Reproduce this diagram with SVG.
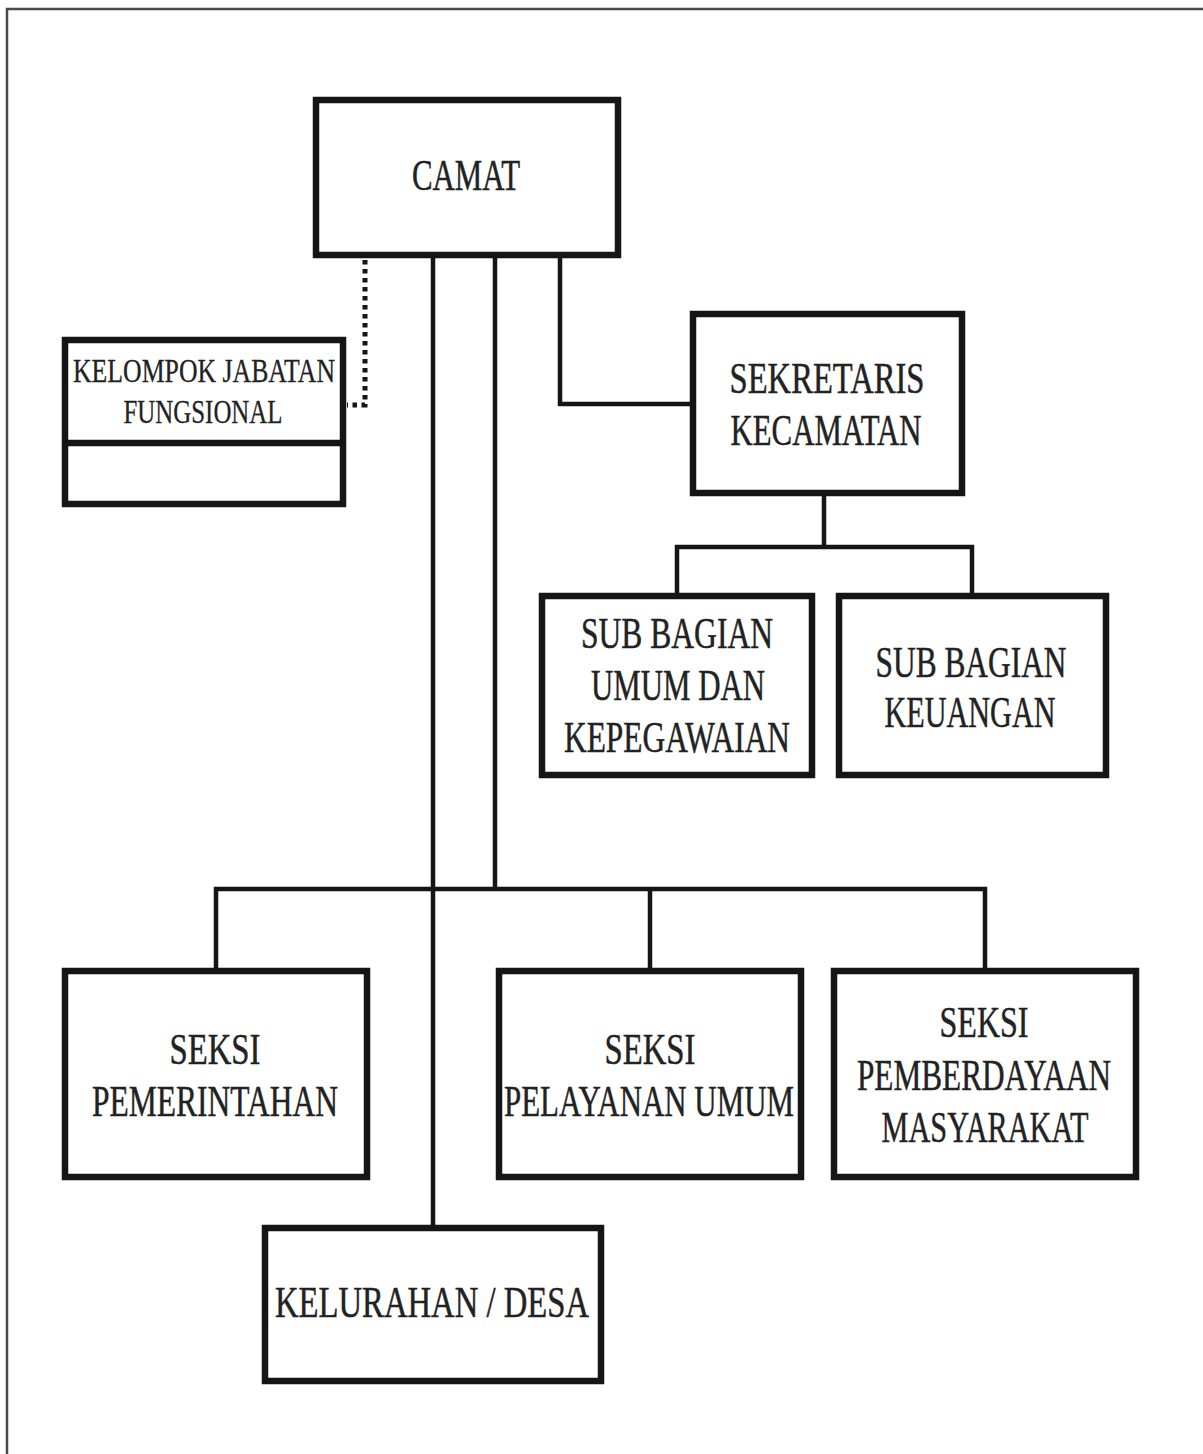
<svg xmlns="http://www.w3.org/2000/svg" width="1203" height="1454" viewBox="0 0 1203 1454">
<style>
.box{fill:#fff;stroke:#151515;stroke-width:6.5}
.ln{fill:none;stroke:#151515;stroke-width:4.5}
.dot{fill:none;stroke:#151515;stroke-width:5;stroke-dasharray:4.5 4.5}
.t{font-family:"Liberation Serif","Times New Roman",serif;font-size:45px;fill:#222;stroke:#222;stroke-width:0.5;text-anchor:middle}
.s{font-size:33px;stroke-width:0.3}
</style>
<rect width="1203" height="1454" fill="#fff"/>
<path d="M7,1454 V9 H1203" fill="none" stroke="#4a4a4a" stroke-width="2.5"/>
<g id="connectors">
<path class="ln" d="M433,258 V1225"/>
<path class="ln" d="M495,258 V889"/>
<path class="ln" d="M560,258 V404 H690"/>
<path class="ln" d="M824,496 V547"/>
<path class="ln" d="M677,596 V547 H972 V596"/>
<path class="ln" d="M216,968 V889 H985 V968"/>
<path class="ln" d="M650,889 V968"/>
<path class="dot" d="M365,260 V405 H347"/>
</g>
<g id="camat">
<rect class="box" x="316" y="100" width="302" height="155"/>
<text class="t" x="466" y="190" font-size="48" textLength="108" lengthAdjust="spacingAndGlyphs">CAMAT</text>
</g>
<g id="kelompok">
<rect class="box" x="65" y="340" width="278" height="164"/>
<path class="box" d="M62,443 H346"/>
<text class="t s" x="204" y="382" textLength="262" lengthAdjust="spacingAndGlyphs">KELOMPOK JABATAN</text>
<text class="t s" x="203" y="423" textLength="159" lengthAdjust="spacingAndGlyphs">FUNGSIONAL</text>
</g>
<g id="sekretaris">
<rect class="box" x="693" y="314" width="269" height="179"/>
<text class="t" x="827" y="393" textLength="195" lengthAdjust="spacingAndGlyphs">SEKRETARIS</text>
<text class="t" x="826" y="445" textLength="191" lengthAdjust="spacingAndGlyphs">KECAMATAN</text>
</g>
<g id="subbagian-umum">
<rect class="box" x="542" y="596" width="270" height="179"/>
<text class="t" x="677" y="648" textLength="192" lengthAdjust="spacingAndGlyphs">SUB BAGIAN</text>
<text class="t" x="678" y="700" textLength="174" lengthAdjust="spacingAndGlyphs">UMUM DAN</text>
<text class="t" x="677" y="752" textLength="226" lengthAdjust="spacingAndGlyphs">KEPEGAWAIAN</text>
</g>
<g id="subbagian-keuangan">
<rect class="box" x="839" y="596" width="267" height="179"/>
<text class="t" x="971" y="677" textLength="191" lengthAdjust="spacingAndGlyphs">SUB BAGIAN</text>
<text class="t" x="970" y="727" textLength="171" lengthAdjust="spacingAndGlyphs">KEUANGAN</text>
</g>
<g id="seksi-pemerintahan">
<rect class="box" x="65" y="971" width="302" height="206"/>
<text class="t" x="215" y="1064" textLength="91" lengthAdjust="spacingAndGlyphs">SEKSI</text>
<text class="t" x="215" y="1116" textLength="246" lengthAdjust="spacingAndGlyphs">PEMERINTAHAN</text>
</g>
<g id="seksi-pelayanan">
<rect class="box" x="499" y="971" width="302" height="206"/>
<text class="t" x="650" y="1064" textLength="91" lengthAdjust="spacingAndGlyphs">SEKSI</text>
<text class="t" x="649" y="1116" textLength="290" lengthAdjust="spacingAndGlyphs">PELAYANAN UMUM</text>
</g>
<g id="seksi-pemberdayaan">
<rect class="box" x="834" y="971" width="302" height="206"/>
<text class="t" x="984" y="1037" textLength="89" lengthAdjust="spacingAndGlyphs">SEKSI</text>
<text class="t" x="984" y="1090" textLength="254" lengthAdjust="spacingAndGlyphs">PEMBERDAYAAN</text>
<text class="t" x="985" y="1142" textLength="207" lengthAdjust="spacingAndGlyphs">MASYARAKAT</text>
</g>
<g id="kelurahan">
<rect class="box" x="265" y="1228" width="336" height="153"/>
<text class="t" x="432" y="1317" textLength="314" lengthAdjust="spacingAndGlyphs">KELURAHAN / DESA</text>
</g>
</svg>
